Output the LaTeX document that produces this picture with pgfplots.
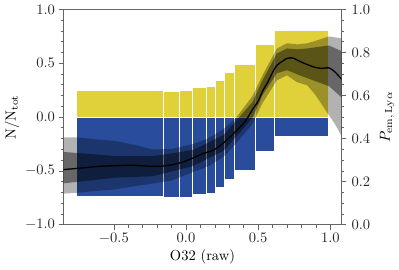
\documentclass[border=0pt]{standalone}
\usepackage{pgfplots}
\pgfplotsset{compat=1.18}
\definecolor{barY}{RGB}{224,208,58}
\definecolor{barB}{RGB}{41,76,156}
\begin{document}
\begin{tikzpicture}
\pgfplotsset{
  common/.style={
    width=191pt, height=148pt, scale only axis,
    xmin=-0.848, xmax=1.076,
    tick align=outside,
    axis line style={black!60}, tick style={black!60, line width=0.5pt},
    major tick length=3.5pt, minor tick length=2pt,
    ticklabel style={/pgf/number format/fixed,/pgf/number format/fixed zerofill,/pgf/number format/precision=1, text=black!85},
  }
}
\begin{axis}[common,
  ymin=-1, ymax=1,
  xtick={-0.5,0,0.5,1}, ytick={-1,-0.5,0,0.5,1},
  minor x tick num=4, minor y tick num=4,
  xtick pos=bottom, ytick pos=left,
  xticklabel style={yshift=1pt}, yticklabel style={xshift=1pt},
  xlabel={O32 (raw)}, ylabel={N/N$_{\mathrm{tot}}$},
  xlabel style={yshift=3pt}, ylabel shift=-3pt,
]
% yellow bars (fraction)
\addplot[fill=barY, draw=white, line width=0.4pt] coordinates {(-0.761,0) (-0.761,0.253) (-0.159,0.253) (-0.159,0)} -- cycle;
\addplot[fill=barY, draw=white, line width=0.4pt] coordinates {(-0.159,0) (-0.159,0.244) (-0.050,0.244) (-0.050,0)} -- cycle;
\addplot[fill=barY, draw=white, line width=0.4pt] coordinates {(-0.050,0) (-0.050,0.253) (0.041,0.253) (0.041,0)} -- cycle;
\addplot[fill=barY, draw=white, line width=0.4pt] coordinates {(0.041,0) (0.041,0.275) (0.140,0.275) (0.140,0)} -- cycle;
\addplot[fill=barY, draw=white, line width=0.4pt] coordinates {(0.140,0) (0.140,0.287) (0.202,0.287) (0.202,0)} -- cycle;
\addplot[fill=barY, draw=white, line width=0.4pt] coordinates {(0.202,0) (0.202,0.340) (0.262,0.340) (0.262,0)} -- cycle;
\addplot[fill=barY, draw=white, line width=0.4pt] coordinates {(0.262,0) (0.262,0.417) (0.338,0.417) (0.338,0)} -- cycle;
\addplot[fill=barY, draw=white, line width=0.4pt] coordinates {(0.338,0) (0.338,0.494) (0.478,0.494) (0.478,0)} -- cycle;
\addplot[fill=barY, draw=white, line width=0.4pt] coordinates {(0.478,0) (0.478,0.673) (0.614,0.673) (0.614,0)} -- cycle;
\addplot[fill=barY, draw=white, line width=0.4pt] coordinates {(0.614,0) (0.614,0.806) (0.986,0.806) (0.986,0)} -- cycle;
% blue bars
\addplot[fill=barB, draw=white, line width=0.4pt] coordinates {(-0.761,0) (-0.761,-0.734) (-0.159,-0.734) (-0.159,0)} -- cycle;
\addplot[fill=barB, draw=white, line width=0.4pt] coordinates {(-0.159,0) (-0.159,-0.744) (-0.050,-0.744) (-0.050,0)} -- cycle;
\addplot[fill=barB, draw=white, line width=0.4pt] coordinates {(-0.050,0) (-0.050,-0.744) (0.041,-0.744) (0.041,0)} -- cycle;
\addplot[fill=barB, draw=white, line width=0.4pt] coordinates {(0.041,0) (0.041,-0.716) (0.140,-0.716) (0.140,0)} -- cycle;
\addplot[fill=barB, draw=white, line width=0.4pt] coordinates {(0.140,0) (0.140,-0.707) (0.202,-0.707) (0.202,0)} -- cycle;
\addplot[fill=barB, draw=white, line width=0.4pt] coordinates {(0.202,0) (0.202,-0.651) (0.262,-0.651) (0.262,0)} -- cycle;
\addplot[fill=barB, draw=white, line width=0.4pt] coordinates {(0.262,0) (0.262,-0.577) (0.338,-0.577) (0.338,0)} -- cycle;
\addplot[fill=barB, draw=white, line width=0.4pt] coordinates {(0.338,0) (0.338,-0.494) (0.478,-0.494) (0.478,0)} -- cycle;
\addplot[fill=barB, draw=white, line width=0.4pt] coordinates {(0.478,0) (0.478,-0.318) (0.614,-0.318) (0.614,0)} -- cycle;
\addplot[fill=barB, draw=white, line width=0.4pt] coordinates {(0.614,0) (0.614,-0.182) (0.986,-0.182) (0.986,0)} -- cycle;
\end{axis}
\begin{axis}[common,
  ymin=0, ymax=1,
  axis y line*=right, axis x line=none,
  ytick={0,0.2,0.4,0.6,0.8,1.0}, minor y tick num=3,
  ylabel={$P_{\mathrm{em,\,Ly\alpha}}$},
]
% outer band
\addplot[fill=black, fill opacity=0.3, draw=none] coordinates {
(-0.85,0.406) (-0.76,0.406) (-0.60,0.395) (-0.50,0.390) (-0.35,0.370) (-0.23,0.349) (-0.10,0.352) (0.05,0.375) (0.15,0.400) (0.26,0.444) (0.35,0.500) (0.46,0.597) (0.53,0.694) (0.63,0.819) (0.70,0.843) (0.77,0.838) (0.84,0.843) (0.90,0.855) (0.99,0.875) (1.08,0.866)
(1.08,0.410) (1.03,0.470) (0.99,0.509) (0.90,0.600) (0.84,0.648) (0.77,0.662) (0.70,0.694) (0.63,0.671) (0.53,0.565) (0.46,0.468) (0.35,0.380) (0.26,0.315) (0.15,0.270) (0.05,0.245) (-0.10,0.205) (-0.23,0.191) (-0.35,0.180) (-0.50,0.163) (-0.60,0.158) (-0.76,0.148) (-0.85,0.144)
} -- cycle;
% inner band
\addplot[fill=black, fill opacity=0.42, draw=none] coordinates {
(-0.85,0.338) (-0.60,0.325) (-0.50,0.319) (-0.23,0.318) (0.05,0.347) (0.26,0.417) (0.46,0.569) (0.53,0.671) (0.63,0.796) (0.70,0.819) (0.77,0.815) (0.84,0.819) (0.99,0.833) (1.08,0.806)
(1.08,0.590) (0.99,0.644) (0.84,0.681) (0.77,0.699) (0.70,0.718) (0.63,0.704) (0.53,0.602) (0.46,0.495) (0.26,0.343) (0.05,0.273) (-0.23,0.225) (-0.50,0.218) (-0.60,0.210) (-0.85,0.192)
} -- cycle;
% median curve
\addplot[black, line width=0.9pt, smooth] coordinates {
(-0.85,0.256) (-0.71,0.264) (-0.60,0.271) (-0.50,0.274) (-0.37,0.276) (-0.23,0.271) (-0.15,0.273) (-0.09,0.279) (-0.02,0.292) (0.05,0.310) (0.12,0.331) (0.19,0.346) (0.26,0.380) (0.30,0.405) (0.345,0.434) (0.41,0.480) (0.46,0.534) (0.50,0.574) (0.53,0.620) (0.57,0.667) (0.60,0.708) (0.63,0.741) (0.67,0.760) (0.70,0.773) (0.74,0.775) (0.77,0.765) (0.83,0.747) (0.90,0.730) (0.95,0.727) (0.99,0.729) (1.03,0.711) (1.08,0.675)
};
\end{axis}
\end{tikzpicture}
\end{document}
